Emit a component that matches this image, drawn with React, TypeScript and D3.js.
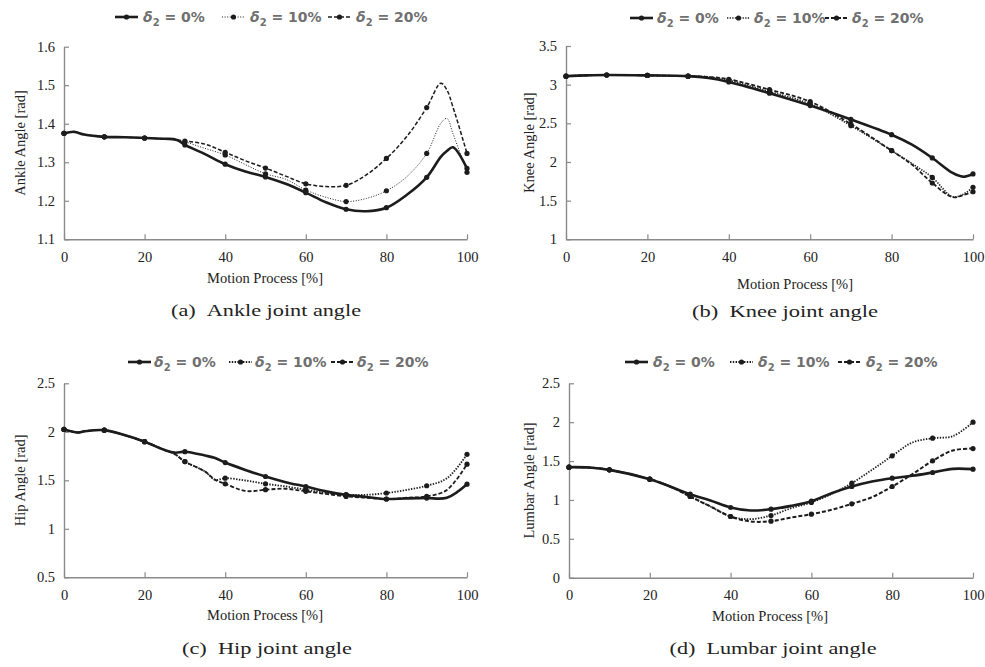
import React, { useEffect, useRef } from 'react';
import * as d3 from 'd3';

// motion process [%] sample positions
const ankleX = [0, 2.5, 5, 10, 15, 20, 25, 28, 30, 35, 40, 45, 50, 55, 60, 65, 70, 75, 80, 85, 90, 93.5, 95, 96.5, 100];
const ankle0 = [1.375, 1.379, 1.372, 1.366, 1.365, 1.363, 1.361, 1.358, 1.345, 1.321, 1.295, 1.276, 1.262, 1.244, 1.221, 1.196, 1.178, 1.173, 1.182, 1.215, 1.261, 1.314, 1.329, 1.339, 1.284];
const ankle10 = [1.375, 1.379, 1.372, 1.366, 1.365, 1.363, 1.361, 1.358, 1.353, 1.336, 1.319, 1.294, 1.27, 1.256, 1.228, 1.209, 1.198, 1.206, 1.226, 1.262, 1.323, 1.401, 1.414, 1.375, 1.274];
const ankle20 = [1.375, 1.379, 1.372, 1.366, 1.365, 1.363, 1.361, 1.358, 1.355, 1.347, 1.326, 1.304, 1.285, 1.264, 1.244, 1.237, 1.24, 1.267, 1.31, 1.366, 1.442, 1.505, 1.488, 1.444, 1.323];

const kneeX = [0, 5, 10, 20, 30, 35, 40, 50, 60, 70, 80, 85, 90, 95, 97.5, 100];
const knee0 = [3.11, 3.12, 3.125, 3.12, 3.11, 3.086, 3.035, 2.89, 2.73, 2.55, 2.353, 2.224, 2.052, 1.858, 1.81, 1.845];
const knee10 = [3.11, 3.12, 3.125, 3.12, 3.11, 3.1, 3.056, 2.91, 2.75, 2.47, 2.147, 1.98, 1.8, 1.55, 1.58, 1.672];
const knee20 = [3.11, 3.12, 3.125, 3.12, 3.11, 3.1, 3.07, 2.935, 2.78, 2.49, 2.147, 1.966, 1.728, 1.545, 1.57, 1.615];

const hipX = [0, 3.5, 5, 10, 15, 20, 25, 27.5, 30, 35, 37.5, 40, 45, 50, 55, 60, 65, 70, 75, 80, 85, 90, 95, 100];
const hip0 = [2.024, 1.993, 2.005, 2.017, 1.966, 1.898, 1.812, 1.785, 1.795, 1.755, 1.73, 1.683, 1.607, 1.539, 1.481, 1.435, 1.386, 1.35, 1.328, 1.307, 1.314, 1.317, 1.32, 1.46];
const hip10 = [2.024, 1.993, 2.005, 2.017, 1.966, 1.898, 1.812, 1.77, 1.693, 1.59, 1.505, 1.522, 1.498, 1.464, 1.437, 1.403, 1.37, 1.352, 1.35, 1.369, 1.4, 1.444, 1.52, 1.768];
const hip20 = [2.024, 1.993, 2.005, 2.017, 1.966, 1.898, 1.812, 1.77, 1.693, 1.59, 1.505, 1.464, 1.39, 1.403, 1.413, 1.386, 1.36, 1.334, 1.32, 1.307, 1.32, 1.334, 1.4, 1.666];

const lumbarX = [0, 5, 10, 20, 25, 30, 35, 40, 45, 50, 55, 60, 65, 70, 75, 80, 85, 90, 95, 100];
const lumbar0 = [1.421, 1.417, 1.387, 1.267, 1.173, 1.074, 0.993, 0.903, 0.864, 0.881, 0.924, 0.984, 1.087, 1.173, 1.237, 1.28, 1.31, 1.353, 1.4, 1.396];
const lumbar10 = [1.421, 1.417, 1.387, 1.267, 1.173, 1.044, 0.916, 0.787, 0.753, 0.8, 0.894, 0.967, 1.078, 1.216, 1.387, 1.567, 1.739, 1.794, 1.82, 2.0];
const lumbar20 = [1.421, 1.417, 1.387, 1.267, 1.173, 1.044, 0.916, 0.787, 0.723, 0.727, 0.774, 0.817, 0.873, 0.95, 1.036, 1.173, 1.331, 1.503, 1.636, 1.661];

const xTicks = [0, 20, 40, 60, 80, 100];
const ankleTicks = [1.1, 1.2, 1.3, 1.4, 1.5, 1.6];
const kneeTicks = [1, 1.5, 2, 2.5, 3, 3.5];
const hipTicks = [0.5, 1, 1.5, 2, 2.5];
const lumbarTicks = [0, 0.5, 1, 1.5, 2, 2.5];

const seriesNames = ['0%', '10%', '20%'];

const INK = '#1c1c1c';
const AXIS = '#8a8a8a';
const SERIF = '"Liberation Serif", "Times New Roman", serif';

// layout of the four sub-figures (pixel boxes of each plot area + text anchors)
const panels = [
  {
    xs: ankleX, ys: [ankle0, ankle10, ankle20], ticks: ankleTicks, fmt: d3.format('.1f'),
    yLabel: 'Ankle Angle [rad]', caption: '(a)\u2002Ankle joint angle',
    box: { l: 64, r: 467, t: 46.7, b: 239.3 }, yLabelX: 25, xTitle: { x: 265, y: 283 },
    legendY: 17, legend: [115, 222, 328], legendGap: 28, cap: [266, 316, 190],
    dotW: 1, dotDash: '1 1.6', dashW: 1.5,
  },
  {
    xs: kneeX, ys: [knee0, knee10, knee20], ticks: kneeTicks, fmt: (v: number) => String(v),
    yLabel: 'Knee Angle [rad]', caption: '(b)\u2002Knee joint angle',
    box: { l: 566, r: 973, t: 46, b: 239.3 }, yLabelX: 534, xTitle: { x: 795, y: 289 },
    legendY: 18, legend: [630, 727, 825], legendGap: 27, cap: [785, 317, 186],
    dotW: 1.6, dotDash: '1.3 1.3', dashW: 1.8,
  },
  {
    xs: hipX, ys: [hip0, hip10, hip20], ticks: hipTicks, fmt: (v: number) => String(v),
    yLabel: 'Hip Angle [rad]', caption: '(c)\u2002Hip joint angle',
    box: { l: 64, r: 467, t: 383.3, b: 577.3 }, yLabelX: 25, xTitle: { x: 265, y: 620 },
    legendY: 362, legend: [128, 229, 331], legendGap: 26, cap: [267, 654, 170],
    dotW: 1.8, dotDash: '1.4 1.4', dashW: 1.8,
  },
  {
    xs: lumbarX, ys: [lumbar0, lumbar10, lumbar20], ticks: lumbarTicks, fmt: (v: number) => String(v),
    yLabel: 'Lumbar Angle [rad]', caption: '(d)\u2002Lumbar joint angle',
    box: { l: 569, r: 973, t: 383.3, b: 577.7 }, yLabelX: 534, xTitle: { x: 770, y: 621 },
    legendY: 362, legend: [625, 730, 838], legendGap: 28, cap: [773, 654, 207],
    dotW: 1.8, dotDash: '1.4 1.4', dashW: 2,
  },
];

function styleFor(p: any, i: number) {
  if (i === 0) return { w: 2.6, dash: null };
  if (i === 1) return { w: p.dotW, dash: p.dotDash };
  return { w: p.dashW, dash: '4 2' };
}

export default function App() {
  const svgRef = useRef<SVGSVGElement | null>(null);

  useEffect(() => {
    const svg = d3.select(svgRef.current);
    svg.selectAll('*').remove();
    svg.append('rect').attr('width', 985).attr('height', 667).attr('fill', '#fff');

    panels.forEach((p) => {
      const g = svg.append('g');
      const x = d3.scaleLinear().domain([0, 100]).range([p.box.l, p.box.r]);
      const y = d3.scaleLinear().domain([p.ticks[0], p.ticks[p.ticks.length - 1]]).range([p.box.b, p.box.t]);

      // axes (ticks point inward, Excel style)
      const yAxis = g.append('g').attr('transform', `translate(${p.box.l},0)`)
        .call(d3.axisLeft(y).tickValues(p.ticks).tickSizeInner(-5).tickSizeOuter(0).tickPadding(9).tickFormat(p.fmt as any));
      const xAxis = g.append('g').attr('transform', `translate(0,${p.box.b})`)
        .call(d3.axisBottom(x).tickValues(xTicks).tickSizeInner(-5).tickSizeOuter(0).tickPadding(12));
      [yAxis, xAxis].forEach((a) => {
        a.select('.domain').attr('stroke', AXIS).attr('stroke-width', 1.4);
        a.selectAll('.tick line').attr('stroke', AXIS).attr('stroke-width', 1.2);
        a.selectAll('.tick text').attr('fill', '#222').style('font-family', SERIF).style('font-size', '14.5px');
      });

      // lines
      const line = d3.line<number>()
        .x((_, i) => x(p.xs[i]))
        .y((d) => y(d))
        .curve(d3.curveCatmullRom.alpha(0.5));

      p.ys.forEach((vals, si) => {
        const st = styleFor(p, si);
        g.append('path')
          .attr('d', line(vals))
          .attr('fill', 'none')
          .attr('stroke', INK)
          .attr('stroke-width', st.w)
          .attr('stroke-dasharray', st.dash)
          .attr('stroke-linejoin', 'round');
        g.selectAll(null)
          .data(vals.map((v, i) => [p.xs[i], v]).filter((d) => d[0] % 10 === 0))
          .enter()
          .append('circle')
          .attr('cx', (d) => x(d[0]))
          .attr('cy', (d) => y(d[1]))
          .attr('r', 2.6)
          .attr('fill', INK);
      });

      // axis titles
      g.append('text')
        .attr('x', p.xTitle.x).attr('y', p.xTitle.y)
        .attr('text-anchor', 'middle')
        .style('font-family', SERIF).style('font-size', '14.5px').attr('fill', '#222')
        .text('Motion Process [%]');
      g.append('text')
        .attr('transform', `translate(${p.yLabelX},${(p.box.t + p.box.b) / 2}) rotate(-90)`)
        .attr('text-anchor', 'middle')
        .style('font-family', SERIF).style('font-size', '14.5px').attr('fill', '#222')
        .text(p.yLabel);

      // legend
      p.legend.forEach((lx, si) => {
        const st = styleFor(p, si);
        const ly = p.legendY;
        g.append('line')
          .attr('x1', lx).attr('x2', lx + 23).attr('y1', ly).attr('y2', ly)
          .attr('stroke', INK).attr('stroke-width', st.w).attr('stroke-dasharray', st.dash);
        g.append('circle').attr('cx', lx + 11.5).attr('cy', ly).attr('r', 2.6).attr('fill', INK);
        const t = g.append('text')
          .attr('x', lx + p.legendGap).attr('y', ly + 5)
          .style('font-family', '"DejaVu Sans", sans-serif').style('font-size', '14px')
          .style('font-weight', 'bold').attr('fill', '#707070');
        t.append('tspan').style('font-style', 'italic').text('\u03b4');
        t.append('tspan').attr('dy', 4).style('font-size', '10px').text('2');
        t.append('tspan').attr('dy', -4).text(` = ${seriesNames[si]}`);
      });

      // caption
      g.append('text')
        .attr('x', p.cap[0] - p.cap[2] / 2).attr('y', p.cap[1])
        .attr('textLength', p.cap[2]).attr('lengthAdjust', 'spacingAndGlyphs')
        .style('font-family', SERIF).style('font-size', '17px').attr('fill', '#222')
        .text(p.caption);
    });
  }, []);

  return (
    <svg ref={svgRef} width={985} height={667}
      style={{ position: 'absolute', left: 0, top: 0, display: 'block' }} />
  );
}
